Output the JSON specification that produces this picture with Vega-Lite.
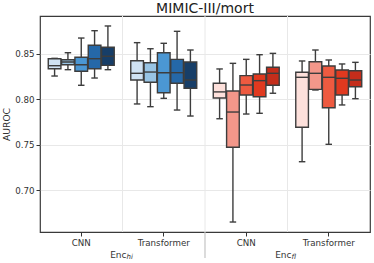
{
  "$schema": "https://vega.github.io/schema/vega-lite/v6.json",
  "autosize": {"type": "none"},
  "padding": {"left": 40, "top": 16, "right": 4, "bottom": 31},
  "width": 330,
  "height": 216,
  "title": {"text": "MIMIC-III/mort", "fontSize": 14, "fontWeight": "normal", "color": "#222222", "offset": 3, "dy": 3, "font": "DejaVu Sans"},
  "config": {
    "font": "DejaVu Sans",
    "view": {"stroke": "#3a3a3a", "strokeWidth": 1.2},
    "axis": {"labelFont": "DejaVu Sans", "titleFont": "DejaVu Sans", "labelColor": "#333333", "titleColor": "#333333", "tickColor": "#333333", "domain": false}
  },
  "datasets": {
    "boxes": [
      {"g": "hi|CNN", "v": 1, "c": "hi1", "lo": 0.8257, "q1": 0.8338, "med": 0.8371, "q3": 0.8448, "hi": 0.8452},
      {"g": "hi|CNN", "v": 2, "c": "hi2", "lo": 0.8327, "q1": 0.8382, "med": 0.8412, "q3": 0.8437, "hi": 0.8514},
      {"g": "hi|CNN", "v": 3, "c": "hi3", "lo": 0.8155, "q1": 0.8309, "med": 0.8382, "q3": 0.8464, "hi": 0.8676},
      {"g": "hi|CNN", "v": 4, "c": "hi4", "lo": 0.8235, "q1": 0.8338, "med": 0.8448, "q3": 0.8596, "hi": 0.8757},
      {"g": "hi|CNN", "v": 5, "c": "hi5", "lo": 0.8327, "q1": 0.8375, "med": 0.8475, "q3": 0.8574, "hi": 0.8809},
      {"g": "hi|Transformer", "v": 1, "c": "hi1", "lo": 0.7949, "q1": 0.8213, "med": 0.8287, "q3": 0.8426, "hi": 0.8625},
      {"g": "hi|Transformer", "v": 2, "c": "hi2", "lo": 0.7919, "q1": 0.8188, "med": 0.8301, "q3": 0.8404, "hi": 0.8558},
      {"g": "hi|Transformer", "v": 3, "c": "hi3", "lo": 0.8011, "q1": 0.8073, "med": 0.8294, "q3": 0.8514, "hi": 0.8618},
      {"g": "hi|Transformer", "v": 4, "c": "hi4", "lo": 0.7882, "q1": 0.8177, "med": 0.8294, "q3": 0.8441, "hi": 0.8750},
      {"g": "hi|Transformer", "v": 5, "c": "hi5", "lo": 0.7816, "q1": 0.8122, "med": 0.8213, "q3": 0.8412, "hi": 0.8544},
      {"g": "fl|CNN", "v": 1, "c": "fl1", "lo": 0.7786, "q1": 0.8015, "med": 0.8082, "q3": 0.8177, "hi": 0.8335},
      {"g": "fl|CNN", "v": 2, "c": "fl2", "lo": 0.6647, "q1": 0.7471, "med": 0.7860, "q3": 0.8092, "hi": 0.8397},
      {"g": "fl|CNN", "v": 3, "c": "fl3", "lo": 0.7838, "q1": 0.8048, "med": 0.8158, "q3": 0.8261, "hi": 0.8441},
      {"g": "fl|CNN", "v": 4, "c": "fl4", "lo": 0.7846, "q1": 0.8029, "med": 0.8206, "q3": 0.8279, "hi": 0.8492},
      {"g": "fl|CNN", "v": 5, "c": "fl5", "lo": 0.8067, "q1": 0.8155, "med": 0.8287, "q3": 0.8353, "hi": 0.8507},
      {"g": "fl|Transformer", "v": 1, "c": "fl1", "lo": 0.7312, "q1": 0.7692, "med": 0.8243, "q3": 0.8298, "hi": 0.8423},
      {"g": "fl|Transformer", "v": 2, "c": "fl2", "lo": 0.8103, "q1": 0.8110, "med": 0.8287, "q3": 0.8415, "hi": 0.8544},
      {"g": "fl|Transformer", "v": 3, "c": "fl3", "lo": 0.7504, "q1": 0.7908, "med": 0.8243, "q3": 0.8368, "hi": 0.8434},
      {"g": "fl|Transformer", "v": 4, "c": "fl4", "lo": 0.7938, "q1": 0.8048, "med": 0.8232, "q3": 0.8324, "hi": 0.8390},
      {"g": "fl|Transformer", "v": 5, "c": "fl5", "lo": 0.8007, "q1": 0.8139, "med": 0.8213, "q3": 0.8316, "hi": 0.8408}
    ],
    "bounds": [{"g": "hi|Transformer"}, {"g": "fl|CNN"}, {"g": "fl|Transformer"}],
    "titles": [{"g": "hi|Transformer", "main": "Enc", "sub": "hi"}, {"g": "fl|Transformer", "main": "Enc", "sub": "fl"}]
  },
  "encoding": {
    "x": {"field": "g", "type": "nominal",
      "scale": {"domain": ["hi|CNN", "hi|Transformer", "fl|CNN", "fl|Transformer"], "paddingInner": 0, "paddingOuter": 0},
      "axis": {"title": null, "labelExpr": "split(datum.label, '|')[1]", "labelAngle": 0, "labelFontSize": 8.7, "tickSize": 4, "labelPadding": 2, "grid": false}
    },
    "y": {"type": "quantitative",
      "scale": {"domain": [0.6537, 0.8919], "nice": false, "zero": false},
      "axis": {"title": "AUROC", "values": [0.70, 0.75, 0.80, 0.85], "format": ".2f", "labelFontSize": 8.7, "titleFontSize": 9.2, "titleFontWeight": "normal", "tickSize": 4, "labelPadding": 2, "titlePadding": 3, "grid": true, "gridColor": "#e8e8e8"}
    }
  },
  "layer": [
    {
      "data": {"name": "bounds"},
      "mark": {"type": "rule", "color": "#e8e8e8", "strokeWidth": 1},
      "encoding": {"x": {"field": "g", "type": "nominal", "bandPosition": 0}}
    },
    {
      "data": {"name": "bounds"},
      "transform": [{"filter": "datum.g == 'fl|CNN'"}],
      "mark": {"type": "rule", "color": "#c4c4c4", "strokeWidth": 1.2},
      "encoding": {"x": {"field": "g", "type": "nominal", "bandPosition": 0}, "y": {"datum": 0.625}, "y2": {"datum": 0.6537}}
    },
    {
      "data": {"name": "titles"},
      "mark": {"type": "text", "align": "right", "baseline": "middle", "fontSize": 9, "color": "#333333", "dx": 4},
      "encoding": {"x": {"field": "g", "type": "nominal", "bandPosition": 0}, "y": {"datum": 0.6285}, "text": {"field": "main"}}
    },
    {
      "data": {"name": "titles"},
      "mark": {"type": "text", "align": "left", "baseline": "middle", "fontSize": 7, "fontStyle": "italic", "color": "#333333", "dx": 4, "dy": 2.5},
      "encoding": {"x": {"field": "g", "type": "nominal", "bandPosition": 0}, "y": {"datum": 0.6285}, "text": {"field": "sub"}}
    },
    {
      "data": {"name": "boxes"},
      "layer": [
        {
          "mark": {"type": "rule", "color": "#3d3d3d", "strokeWidth": 1.4},
          "encoding": {
            "xOffset": {"field": "v", "type": "ordinal", "scale": {"paddingInner": 0.05, "paddingOuter": 0.62}},
            "y": {"field": "lo", "type": "quantitative"},
            "y2": {"field": "hi"}
          }
        },
        {
          "mark": {"type": "tick", "color": "#3d3d3d", "size": 6.5, "thickness": 1.4, "opacity": 1},
          "encoding": {
            "xOffset": {"field": "v", "type": "ordinal", "scale": {"paddingInner": 0.05, "paddingOuter": 0.62}},
            "y": {"field": "lo", "type": "quantitative"}
          }
        },
        {
          "mark": {"type": "tick", "color": "#3d3d3d", "size": 6.5, "thickness": 1.4, "opacity": 1},
          "encoding": {
            "xOffset": {"field": "v", "type": "ordinal", "scale": {"paddingInner": 0.05, "paddingOuter": 0.62}},
            "y": {"field": "hi", "type": "quantitative"}
          }
        },
        {
          "mark": {"type": "bar", "stroke": "#3d3d3d", "strokeWidth": 1.4, "opacity": 1},
          "encoding": {
            "xOffset": {"field": "v", "type": "ordinal", "scale": {"paddingInner": 0.05, "paddingOuter": 0.62}},
            "y": {"field": "q1", "type": "quantitative"},
            "y2": {"field": "q3"},
            "fill": {"field": "c", "type": "nominal", "legend": null,
              "scale": {"domain": ["hi1", "hi2", "hi3", "hi4", "hi5", "fl1", "fl2", "fl3", "fl4", "fl5"],
                "range": ["#cfe2f3", "#98c4e4", "#4b97d3", "#2568a8", "#173e68", "#fde0db", "#f3978a", "#ee5a40", "#e0391f", "#c42d1b"]}}
          }
        },
        {
          "mark": {"type": "tick", "color": "#3d3d3d", "size": 12.6, "thickness": 1.4, "opacity": 1},
          "encoding": {
            "xOffset": {"field": "v", "type": "ordinal", "scale": {"paddingInner": 0.05, "paddingOuter": 0.62}},
            "y": {"field": "med", "type": "quantitative"}
          }
        }
      ]
    }
  ]
}
